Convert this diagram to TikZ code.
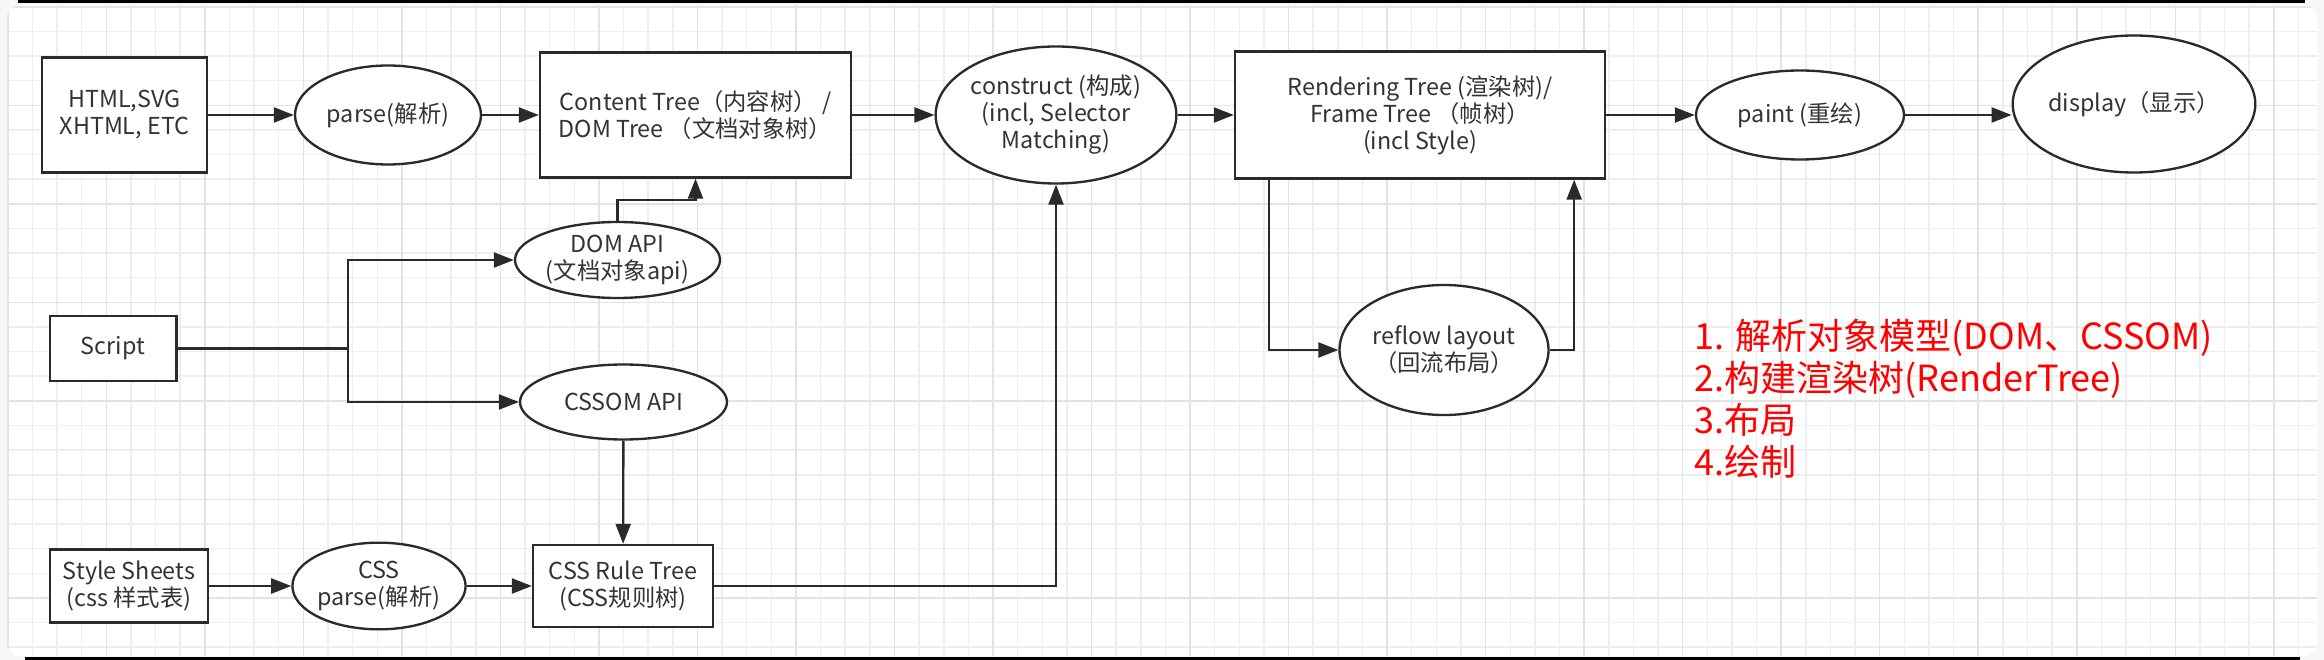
\documentclass[tikz,border=0pt]{standalone}
\usepackage{fontspec}
\setmainfont{Noto Sans CJK SC}
\usepackage{tikz}
\usetikzlibrary{arrows.meta,positioning,shapes.geometric,calc}
\definecolor{inkgray}{HTML}{333333}
\definecolor{edgegray}{HTML}{2A2A2A}
\tikzset{
  box/.style={rectangle, draw=edgegray, line width=0.7pt, fill=white, align=center,
    font=\fontsize{7pt}{8.1pt}\selectfont, text=inkgray, inner sep=2pt},
  oval/.style={ellipse, draw=edgegray, line width=0.7pt, fill=white, align=center,
    font=\fontsize{7pt}{8.1pt}\selectfont, text=inkgray, inner sep=0pt},
  arr/.style={-{Triangle[length=6pt,width=4.5pt]}, draw=edgegray, line width=0.7pt},
  link/.style={draw=edgegray, line width=0.7pt},
  gridminor/.style={draw=gray!13, line width=0.45pt},
  gridmajor/.style={draw=gray!22, line width=0.45pt},
  note/.style={align=left, text=red, font=\fontsize{10.8pt}{12.6pt}\selectfont, inner sep=0pt},
}

\begin{document}
\begin{tikzpicture}[x=0.3pt, y=-0.3pt]
  \useasboundingbox (0,0) rectangle (2324,660);
  \fill[gray!6] (0,0) rectangle (2324,660);
  \fill[white, rounded corners=4pt] (7,5) rectangle (2317,656);
  \begin{scope}
    \clip[rounded corners=4pt] (7,5) rectangle (2317,656);
    \foreach \i in {0,...,94}
      \draw[gridminor] ({7.8+24.63*\i},5) -- ({7.8+24.63*\i},656);
    \foreach \j in {0,...,26}
      \draw[gridminor] (7,{6.8+24.63*\j}) -- (2317,{6.8+24.63*\j});
    \foreach \i in {0,4,...,92}
      \draw[gridmajor] ({7.8+24.63*\i},5) -- ({7.8+24.63*\i},656);
    \foreach \j in {0,4,...,24}
      \draw[gridmajor] (7,{6.8+24.63*\j}) -- (2317,{6.8+24.63*\j});
  \end{scope}
  \fill[black] (18,0) rectangle (2305,3.5);
  \fill[black] (25,656.5) rectangle (2300,660);

  \node[box, minimum width=49.5pt, minimum height=34.5pt] (html) at (124.5,115) {HTML,SVG\\XHTML, ETC};
  \node[oval, minimum width=55.8pt, minimum height=29.7pt] (parse) at (388,115) {parse(解析)};
  \node[box, minimum width=93.3pt, minimum height=37.5pt] (content) at (695.5,115) {Content Tree（内容树） /\\DOM Tree （文档对象树）};
  \node[oval, minimum width=69.3pt, minimum height=41.1pt] (construct) at (1056,115) {construct (构成)\\(incl, Selector\\Matching)};
  \node[box, minimum width=111pt, minimum height=38.1pt] (render) at (1420,115) {Rendering Tree (渲染树)/\\Frame Tree （帧树）\\(incl Style)};
  \node[oval, minimum width=62.4pt, minimum height=26.7pt] (paint) at (1800,115) {paint (重绘)};
  \node[oval, minimum width=71.1pt, minimum height=41.1pt] (display) at (2134,104) {display（显示）};
  \node[oval, minimum width=61.5pt, minimum height=22.8pt] (domapi) at (617.5,260) {DOM API\\(文档对象api)};
  \node[box, minimum width=38pt, minimum height=19.5pt] (script) at (113,348.5) {Script};
  \node[oval, minimum width=62.1pt, minimum height=22.5pt] (cssomapi) at (623.5,402) {CSSOM API};
  \node[box, minimum width=47.3pt, minimum height=21.9pt] (sheets) at (129,586) {Style Sheets\\(css 样式表)};
  \node[oval, minimum width=49.8pt, minimum height=26pt] (cssparse) at (379,586) {CSS\\parse(解析)};
  \node[box, minimum width=54pt, minimum height=24.6pt] (ruletree) at (623,586) {CSS Rule Tree\\(CSS规则树)};
  \node[oval, minimum width=62.7pt, minimum height=39pt] (reflow) at (1444,350) {reflow layout\\（回流布局）};
  \node[note, anchor=west] (steps) at (1694,398.5) {1. 解析对象模型(DOM、CSSOM)\\2.构建渲染树(RenderTree)\\3.布局\\4.绘制};

  \coordinate (split) at (348,348.5);
  \draw[arr] (html) -- (parse);
  \draw[arr] (parse) -- (content);
  \draw[arr] (content) -- (construct);
  \draw[arr] (construct) -- (render);
  \draw[arr] (render) -- (paint);
  \draw[arr] (paint.east) -- (paint.east -| display.west);
  \draw[arr] (domapi.north) |- ($(domapi.north)!.5!(content.south)$) -| (content.south);
  \draw[link] (script.east) -- (split);
  \draw[arr] (split) |- (domapi.west);
  \draw[arr] (split) |- (cssomapi.west);
  \draw[arr] (cssomapi) -- (ruletree);
  \draw[arr] (sheets) -- (cssparse);
  \draw[arr] (cssparse) -- (ruletree);
  \draw[arr] (ruletree.east) -| (construct.south);
  \draw[arr] ($(render.south west)+(35,0)$) |- (reflow.west);
  \draw[arr] (reflow.east) -| ($(render.south east)+(-32,0)$);
\end{tikzpicture}
\end{document}
